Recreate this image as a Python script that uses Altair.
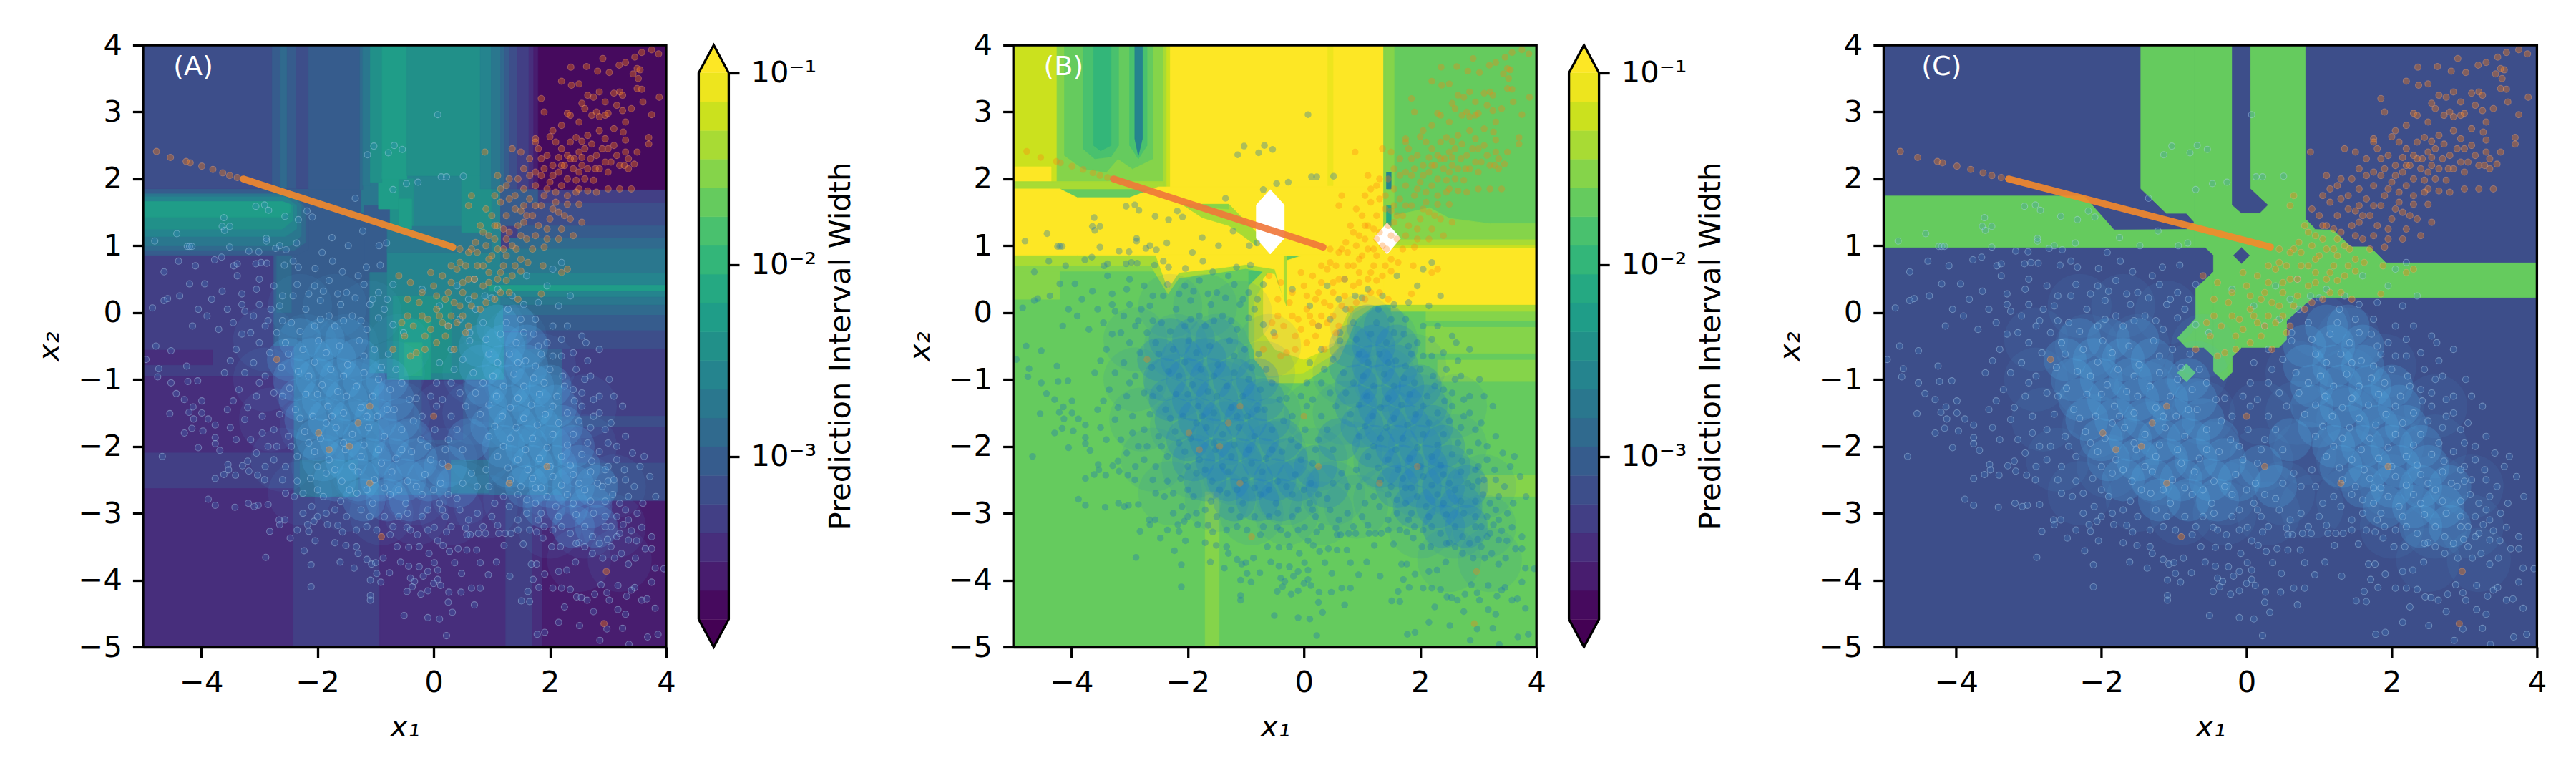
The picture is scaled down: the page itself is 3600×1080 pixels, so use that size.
import altair as alt
import pandas as pd

VIRIDIS = ["#460a5e","#481d6f","#472e7c","#423f85","#3d4e8a","#365c8d","#306a8e","#2a778e","#25848e","#219089",
           "#1f9d88","#25a982","#33b679","#49c16e","#65cb5e","#85d44a","#a8db34","#cbe11e","#ede51e","#fde725","#ffffff","#440154"]
BANDS = list(range(22))
LEVELS = [-3.85,-3.7,-3.55,-3.4,-3.25,-3.1,-2.95,-2.8,-2.65,-2.5,-2.35,-2.2,-2.05,-1.9,-1.75,-1.6,-1.45,-1.3,-1.15,-1.0]
X_TICKS = [-4,-2,0,2,4]
Y_TICKS = [-5,-4,-3,-2,-1,0,1,2,3,4]
CB_TICKS = [0.1,0.01,0.001]

def R(b,x0,x1,y0,y1):
    return (b,[(x0,y0,y1),(x1,y0,y1)])

# Panel A: contour regions (band, [(x, y_low, y_high), ...])
PIECES_A = [
 R(3,-5,4,-5,4),
 R(2,-5,-2.415,-5,-2.63),R(3,-2.415,-.93,-5,-2.72),R(2,-.93,1.24,-5,-2.72),R(3,1.24,1.70,-5,-2.82),
 R(2,1.70,1.87,-5,-2.82),R(1,1.87,4,-5,-2.82),
 R(2,-5,-2.4,-2.09,-.95),R(2,-5,-3.8,-.78,-.56),
 R(4,2.2,4,-1.71,-1.55),R(4,2.2,4,-2.8,-2.25),
 R(4,-2.4,2.2,-2.72,-.45),R(5,-2.4,-.95,-2.72,-.3),R(5,.95,2.2,-2.72,-.3),R(6,-2.3,-1.3,-2.75,-2.2),R(6,.3,.95,-2.7,-2.2),
 R(3,-.2,.5,-1.9,-1.0),
 R(5,-2.75,-1.1,-.5,1.85),R(6,-2.7,-2.45,0,.9),
 R(8,-1.1,1.15,1.2,2.1),R(7,-1.25,-.75,1.5,2.0),
 R(5,-1.2,-.75,.5,1.6),R(7,-1.1,-.75,-.9,.6),
 R(8,-.8,1.2,-1.0,.95),R(7,-.8,1.15,.9,1.3),R(8,-.34,.48,1.3,2.04),R(9,.48,1.0,1.2,2.05),R(8,1.0,1.15,.6,1.85),
 R(9,-.75,-.34,1.3,2.0),R(10,-.95,-.6,1.55,2.0),R(10,-.6,-.38,1.25,1.7),
 R(9,-.7,.3,-.9,.25),R(10,-.6,-.05,-1.0,-.1),R(11,-.5,-.2,-.95,-.45),
 R(5,1.15,1.8,1.3,1.85),
 R(3,1.8,4,1.64,1.85),R(4,1.55,4,1.30,1.64),R(5,1.45,4,1.11,1.30),R(6,1.3,4,.95,1.11),R(7,1.15,4,.59,.95),
 R(8,1.05,4,.41,.59),R(10,.95,4,.32,.41),R(8,1.05,4,.23,.32),R(7,1.15,4,.11,.23),R(6,1.2,4,-.04,.11),
 R(5,1.2,4,-.27,-.04),R(4,1.6,4,-.54,-.27),
 (5,[(-5,.86,1.85),(-2.35,.86,1.85),(-2.15,.95,1.8)]),
 (6,[(-5,.93,1.79),(-2.4,.93,1.79),(-2.2,1.05,1.55)]),
 (7,[(-5,1.0,1.77),(-2.45,1.0,1.77),(-2.28,1.15,1.6)]),
 (8,[(-5,1.14,1.73),(-2.55,1.14,1.73),(-2.36,1.25,1.6)]),
 (9,[(-5,1.25,1.66),(-2.6,1.25,1.66),(-2.42,1.38,1.6)]),
 (10,[(-5,1.43,1.66),(-2.6,1.43,1.66),(-2.47,1.5,1.62)]),
 R(4,-5,-2.78,1.86,4),R(5,-2.78,-2.64,1.86,4),R(6,-2.64,-2.52,1.86,4),R(5,-2.52,-2.36,1.86,4),R(4,-2.36,-2.15,1.86,4),
 R(5,-2.15,-1.27,1.84,4),R(6,-1.27,-1.22,1.84,4),R(7,-1.22,-1.09,1.9,4),R(9,-1.09,-.89,1.95,4),R(10,-.89,-.46,2.0,4),
 R(9,-.46,.80,2.05,4),R(8,.80,.99,1.85,4),R(7,.99,1.15,1.85,4),R(6,1.15,1.22,1.85,4),R(5,1.22,1.30,1.85,4),
 R(4,1.30,1.44,1.85,4),R(3,1.44,1.64,1.85,4),R(2,1.64,1.72,1.85,4),R(1,1.72,1.80,1.85,4),R(0,1.80,4,1.84,4),
]

# Panel B: contour regions
PIECES_B = [
 R(14,-5,4,-5,4),
 R(15,-1.70,-1.46,-5,-2.68),R(15,3.04,4,-2.75,-2.43),
 R(15,2.3,4,-1.03,-.71),R(15,2.1,4,-.61,-.21),R(14,2.4,4,-.21,-.12),R(15,2.1,4,-.12,.02),R(16,1.5,4,.02,.12),R(15,-5,-4.2,.2,.7),
 (15,[(-5,.62,.7),(-2.5,.62,.7)]),
 (16,[(-5,.7,.86),(-.3,.7,.86)]),
 (14,[(-1.5,.25,.63),(-.55,.25,.63)]),
 (13,[(-.95,.35,.62),(-.72,.35,.62)]),
 (16,[(-.95,-.4,.4),(-.6,-1.05,.7),(0,-1.05,.86),(.6,-.7,.86),(.9,-.1,.86),(1.2,.1,.86),(1.4,.12,.86)]),
 (17,[(-.85,-.7,.2),(-.6,-.95,.55),(0,-.9,.86),(.55,-.6,.86),(.85,0,.86),(1.2,.15,.86)]),
 (19,[(-.7,-.3,.5),(-.5,-.55,.72),(0,-.7,.86),(.5,-.5,.86),(.8,.1,.86),(1.4,.12,.86)]),
 (16,[(-2.65,.72,.9),(-2.34,.28,.9),(-2.15,.52,.9),(-1.6,.58,.9),(-1,.66,.9),(-.5,.58,.9),(-.3,.1,.9)]),
 (19,[(-2.55,.86,.86),(-2.34,.36,.86),(-2.15,.6,.86),(-1.6,.65,.86),(-1,.72,.86),(-.5,.65,.86),(-.35,.2,.86)]),
 R(19,-2.31,1.37,.86,4),
 R(18,.41,.5,1.9,4),
 R(17,-5,-4.2,1.85,4),R(15,-4.25,-2.42,1.87,4),R(16,-2.42,-2.36,1.87,4),R(17,-2.36,-2.31,1.87,4),
 (14,[(-4.12,2.35,4),(-3.8,2.15,4),(-3.4,2.1,4),(-3.2,2.3,4),(-2.95,2.15,4),(-2.6,2.3,4)]),
 (13,[(-3.8,2.45,4),(-3.6,2.3,4),(-3.32,2.33,4),(-3.19,2.5,4)]),
 (12,[(-3.62,2.5,4),(-3.5,2.42,4),(-3.32,2.5,4)]),
 (13,[(-3.0,2.5,4),(-2.85,2.3,4),(-2.7,2.5,4)]),
 (8,[(-2.91,2.6,4),(-2.85,2.35,4),(-2.78,2.6,4)]),
 R(19,-5,-4.35,1.96,2.18),R(16,-5,-2.4,1.85,1.96),
 (19,[(-5,.86,1.85),(-4.2,.86,1.85),(-3.9,.86,1.72),(-3.0,.86,1.72),(-2.5,.86,1.88),(1.37,.86,1.88)]),
 (16,[(-2.1,1.62,1.62),(-1.75,1.42,1.62),(-1.29,1.3,1.62),(-.82,1.0,1.2)]),
 (15,[(-1.75,1.58,1.62),(-1.3,1.55,1.62)]),
 (17,[(1.37,.96,1.4),(1.42,.96,1.4)]),
 R(15,1.37,1.4,1.05,4),R(15,1.40,1.55,1.05,4),
 (15,[(1.4,1.05,1.42),(2.16,1.05,1.57),(2.5,1.05,1.41),(3.2,1.05,1.33),(4,1.05,1.33)]),
 R(16,1.37,4,.98,1.09),R(17,1.37,4,.96,1.0),R(19,1.37,4,.12,.96),
 R(8,1.42,1.5,1.85,2.1),R(11,1.42,1.5,1.3,1.6),
 (20,[(-.82,1.11,1.61),(-.58,.875,1.84),(-.34,1.11,1.61)]),
 (20,[(1.2,1.11,1.11),(1.43,.875,1.34),(1.66,1.11,1.11)]),
]

# Panel C: two-level regions
PIECES_C = [
 R(4,-5,4,-5,4),
 (14,[(-5,.978,1.744),(-2.24,.978,1.744),(-1.825,.978,1.236),(-.83,.978,1.243),(-.72,.978,1.354)]),
 (14,[(-1.457,1.854,4),(-1.105,1.485,4),(-.83,1.485,4),(-.72,1.354,4)]),
 (14,[(-.954,-.379,-.379),(-.83,-.52,-.235),(-.70,-.52,-.085)]),
 (14,[(-.70,-.52,.36),(-.59,-.52,.47),(-.455,-.657,.61)]),
 (14,[(-.72,.978,4),(-.57,.978,4),(-.456,.86,4),(-.455,-.88,4),(-.32,-1.02,4),(-.197,-.89,4),(-.196,-.657,4),(-.07,-.52,4),
      (.45,-.52,4),(.55,-.405,4),(.551,-.12,4),(.809,.13,4),(.811,.13,1.40),(.92,.228,1.28),(.94,.228,1.243),(1.19,.228,1.235),
      (1.44,.228,.983),(1.70,.228,.983),(1.92,.228,.743),(4,.228,.743)]),
 (4,[(-.197,1.61,4),(-.07,1.49,4),(.049,1.49,4),(.05,1.49,1.854),(.18,1.49,1.72),(.29,1.61,1.61)]),
 (4,[(-.18,.855,.855),(-.07,.737,.973),(.04,.855,.855)]),
 (14,[(-.955,-.9,-.9),(-.83,-1.035,-.765),(-.705,-.9,-.9)]),
]

HAZE = [(-2.3,-.4),(-1.9,-.4),(-1.5,-.4),(-2.5,-.7),(-2.1,-.7),(-1.7,-.7),(-1.3,-.7),(-2.4,-1.0),(-2,-1.0),(-1.6,-1.0),(-1.2,-1.0),(-.8,-1.0),
 (-2.3,-1.3),(-1.9,-1.3),(-1.5,-1.3),(-1.1,-1.3),(-.7,-1.3),(-2.2,-1.6),(-1.8,-1.6),(-1.4,-1.6),(-1,-1.6),(-.6,-1.6),(-2,-1.9),(-1.6,-1.9),(-1.2,-1.9),(-.8,-1.9),(-.4,-1.9),
 (-1.9,-2.2),(-1.5,-2.2),(-1.1,-2.2),(-.7,-2.2),(-.3,-2.2),(-1.7,-2.5),(-1.3,-2.5),(-.9,-2.5),(-.5,-2.5),(-.1,-2.5),(-1.2,-2.8),(-.8,-2.8),(-.4,-2.8),
 (1.1,-.2),(1.4,-.2),(.8,-.5),(1.2,-.5),(1.6,-.5),(.8,-.8),(1.2,-.8),(1.6,-.8),(.9,-1.1),(1.3,-1.1),(1.7,-1.1),(2.0,-1.1),
 (.9,-1.4),(1.3,-1.4),(1.7,-1.4),(2.1,-1.4),(1.0,-1.7),(1.4,-1.7),(1.8,-1.7),(2.2,-1.7),(1.2,-2.0),(1.6,-2.0),(2.0,-2.0),(2.4,-2.0),
 (1.3,-2.3),(1.7,-2.3),(2.1,-2.3),(2.5,-2.3),(1.6,-2.6),(2.0,-2.6),(2.4,-2.6),(2.8,-2.6),(1.9,-2.9),(2.3,-2.9),(2.7,-2.9),(2.4,-3.2),(2.8,-3.2),
 (.2,-2.3),(.4,-2.6),(.6,-1.9)]

HAZE_WIDE = [(-2.9,-.4),(-2.9,-1.0),(-2.8,-1.6),(-2.6,-2.2),(-2.3,-2.7),(-2.3,.1),(-1.7,.1),(-1.1,.0),(-.6,-.5),(-2.2,-.5),(-2.2,-1.1),(-2.1,-1.7),(-1.9,-2.3),(-1.5,-2.8),(-.9,-3),(-.3,-3),(.3,-3),(.9,-2.9),
 (-1.5,-.5),(-1.4,-1.2),(-1.3,-1.8),(-1.2,-2.4),(-.7,-.9),(-.6,-1.5),(-.5,-2.1),(-.3,-2.7),(.2,-1.5),(.2,-2.2),(.5,-2.7),(1.0,-.2),(.7,-.9),(.7,-1.5),(.8,-2.1),(1.4,-.4),(1.4,-1),(1.4,-1.6),(1.4,-2.2),(1.4,-2.8),
 (1.9,-.8),(2,-1.4),(2,-2),(2,-2.6),(2,-3.2),(2.6,-1.4),(2.6,-2),(2.6,-2.6),(2.6,-3.2),(3.1,-2.6),(3.1,-3.2),(3.2,-3.7),(2.5,-3.7)]

BLUE_SPARSE = [(.07,2.96),(-1.03,2.49),(-.68,2.5),(-.54,2.44),(-.78,2.39),(-1.14,2.36),(-.47,1.93),(-.27,1.95),(.13,2.03),(.22,2.03),(.51,2.04),(-1.35,1.71),(-.7,1.84),
 (-3.06,1.59),(-2.91,1.61),(-2.84,1.53),(-2.56,1.44),(-2.33,1.39),(-2.18,1.52),(-2.09,1.43),(-3.61,1.42),(-3.64,1.29),(-3.51,1.29),(-3.6,1.23),(-4.42,1.18),(-4.8,1.07),
 (-4.24,.99),(-4.2,.99),(-4.16,.99),(-3.51,.98),(-2.88,1.11),(-2.88,1.07),(-2.65,1.0),(-2.54,.94),(-2.72,.96),(-2.36,1.04),(-1.75,1.12),(-1.47,1.0),(-1.22,1.22),(-1.92,.9),
 (-1.74,.77),(-.94,1.0),(-.81,1.04),(-3.18,.92),(-3.01,.91),(-3.65,.83),(-3.77,.79),(-4.39,.77),(-4.1,.7),(-4.64,.61),(-3.44,.7),(-3.38,.73),(-3.06,.73),(-2.97,.75),(-2.87,.74),
 (-2.57,.71),(-2.42,.77),(-2.33,.68),(-2.04,.66),(-1.57,.61),(-.92,.71),(-1.16,.68),(-1.3,.55),(-3,.5),(-3.38,.55),(-4.2,.43),(-4.58,.21),(-4.64,.18),(-4.37,.25),(-4.84,.07),
 (-3.94,.43),(-3.64,.32),(-3.82,.2),(-3.3,.28),(-3.05,.35),(-2.75,.4),(-2.6,.25),(-2.35,.42),(-2.05,.4),(-1.8,.48),(-1.5,.3),(-1.2,.42),(-.95,.3),(-.7,.42),(-3.55,.05),(-3.25,.02),(-3.0,.12),
 (-2.8,.05),(-3.9,-.05),(-4.15,-.2),(-3.7,-.25),(-3.45,-.15),(-3.15,-.3),(-2.9,-.2),(-1.1,.12),(-.85,.05),(-1.6,.12),(-1.95,.18),(-4.05,.05),
 (-4.78,-.5),(-4.52,-.57),(-4.95,-.7),(-4.73,-.84),(-4.75,-.96),(-4.52,-1.05),(-4.25,-.8),(-4.23,-1.03),(-4.06,-1.02),(-4.43,-1.21),(-4.29,-1.3),(-4.54,-1.51),(-4.14,-1.41),(-3.99,-1.32),
 (-4.21,-1.49),(-3.99,-1.5),(-4.13,-1.59),(-3.88,-1.59),(-3.76,-1.68),(-4.29,-1.8),(-4.16,-1.73),(-3.97,-1.77),(-3.76,-1.87),(-3.76,-1.96),(-4.05,-2.02),(-4.67,-2.15),(-3.68,-2.06),
 (-3.54,-2.27),(-3.53,-2.35),(-3.76,-2.48),(-3.61,-2.42),(-3.41,-2.43),(-3.29,-2.29),(-3.18,-2.37),(-3.03,-2.43),(-2.91,-2.5),(-3.88,-2.79),(-3.76,-2.88),(-3.42,-2.91),(-3.19,-2.85),
 (-3.09,-2.9),(-3.02,-2.88),(-2.85,-2.87),(-2.66,-3.1),(-2.56,-3.1),(-2.65,-3.17),(-2.82,-3.27),(-2.47,-3.37),(-2.35,-3.25),(-2.17,-3.17),(-2.06,-3.12),(-2.15,-3.27),(-2.04,-3.41),
 (-2.23,-3.56),(-1.7,-3.44),(-1.51,-3.48),(-1.33,-3.5),(-1.3,-3.6),(-1.15,-3.69),(-1.07,-3.76),(-1,-3.74),(-.98,-3.9),(-1.09,-4),(-.91,-4.03),(-.76,-3.89),(-.87,-3.67),(-.57,-3.73),
 (-.43,-3.79),(-.25,-3.8),(-.1,-3.87),(.07,-3.85),(-.18,-3.94),(-.4,-3.97),(-.33,-4.02),(.07,-3.99),(0,-4.05),(.12,-4.08),(-.37,-4.1),(-.46,-4.17),(-.22,-4.21),(-.1,-4.16),(.26,-4.18),(.47,-4.18),
 (-2.89,-3.66),(-2.11,-3.77),(-2.11,-4.1),(-1.61,-3.73),(-1.37,-3.82),(-1.09,-4.23),(-1.09,-4.3),(-.51,-4.53),(-.1,-4.56),(.1,-4.58),(.32,-4.48),(.22,-4.83),(.25,-4.33),(.7,-4.37),(.65,-4.12),
 (.8,-4.12),(.94,-3.92),(.48,-3.9),(1.08,-3.73),(1.31,-3.94),(1.62,-4.17),(1.51,-4.31),(1.65,-4.32),(1.78,-4.81),(1.91,-4.78),(2.15,-4.63),(2.51,-4.68),(2.98,-4.73),(3.25,-4.72),(2.86,-4.9),
 (3.68,-4.85),(3.86,-4.81),(3.36,-4.96),(1.71,-3.99),(1.81,-4.11),(2.05,-4.12),(2.2,-4.12),(2.35,-4.14),(2.25,-4.4),(2.46,-4.25),(2.54,-4.26),(2.64,-4.3),(2.75,-4.47),(2.77,-4.21),(2.88,-4.07),
 (2.98,-4.19),(3.02,-4.3),(3.17,-4.44),(3.3,-4.51),(3.17,-4.08),(3.32,-4.24),(3.4,-4.15),(3.58,-4.3),(3.67,-4.28),(3.75,-4.03),(3.81,-4.42),(3.46,-4.11),(3.96,-3.83),(3.81,-3.82),(3.75,-3.53),
 (3.64,-3.53),(3.47,-3.67),(3.35,-3.76),(3.11,-3.67),(3.23,-3.6),(2.91,-3.67),(2.73,-3.6),(2.44,-3.73),(2.29,-3.85),(2.15,-3.87),(1.91,-3.91),(1.77,-3.76),(1.68,-3.76),(3.75,-3.35),(3.49,-3.41),
 (3.4,-3.26),(3.58,-3.21),(3.26,-3.17),(2.99,-3.39),(2.73,-3.35),(2.5,-3.44),(2.18,-3.5),(2.03,-3.5),(1.88,-3.37),(1.77,-3.28),(1.54,-3.46),(1.21,-3.48),(.89,-3.3),(.77,-3.3),(.63,-3.32),(.57,-3.32),
 (1.12,-3.3),(1.23,-3.3),(1.33,-3.3),(.22,-3.28),(.07,-3.41),(.16,-3.48),(.27,-3.57),(.42,-3.53),(.57,-3.55),(.74,-3.55),(-.08,-3.6),(-.25,-3.5),(-.43,-3.51),(-.63,-3.5),(.8,-3.74),(.36,-3.74),(.01,-3.74),
 (.01,-3.21),(-.28,-3.32),(-.46,-3.21),(-.75,-3.32),(-.98,-3.25),(-1.33,-3.25),(-1.57,-3.28),(-1.83,-3.17),(3.3,-2.95),(3.15,-3.05),(3.6,-2.85),(3.82,-2.75),(3.45,-2.6),(3.72,-2.45),(3.55,-2.3),
 (3.3,-2.5),(3.08,-2.72),(2.95,-2.35),(3.15,-2.2),(3.42,-2.1),(3.62,-2.15),(3.0,-1.95),(3.3,-1.85),(3.05,-1.65),(2.75,-1.55),(3.25,-1.4),(2.85,-1.25),(2.6,-1.0),(3.02,-1.0),(2.65,-.72),(2.85,-.55),
 (2.55,-.35),(2.3,-.2),(2.15,.1),(2.35,.25),(1.95,.4),(2.05,.65),(2.2,.75),(1.6,.55),(1.8,.15),(-3.4,-.55),(-3.1,-.75),(-3.6,-.9),(-3.35,-1.15),(-3.05,-1.25),(-3.55,-1.45),(-3.25,-1.6),(-2.95,-1.8),
 (-3.4,-1.9),(-3.05,-2.1),(-2.75,-2.2),(-2.6,-2.5),(-2.4,-2.75),(-2.1,-2.9),(-1.85,-3.0),(-1.5,-3.05),(-1.1,-3.05),(-.6,-3.05),(-.2,-3.05),(.2,-3.05),(.6,-3.1),(1.0,-3.05),(1.45,-3.1),(1.8,-3.1),(2.05,-3.25),(2.35,-3.3),
 (2.6,-3.2),(2.95,-3.2),(3.2,-3.3)]

BLUE_MID = [(-3.3,.12),(-3.1,-.05),(-3.3,-.32),(-3.0,-.45),(-2.85,-.12),(-2.65,.1),(-2.42,.25),(-2.15,.28),(-1.9,.32),(-1.65,.28),(-1.35,.22),(-1.05,.2),(-.8,.2),(-2.6,-.12),(-2.3,-.28),(-2.05,-.2),
 (-1.8,-.05),(-1.55,-.12),(-1.25,-.12),(-.95,-.08),(-.7,-.18),(-.52,-.3),(-3.5,-.72),(-3.25,-.9),(-3.0,-1.05),(-3.45,-1.32),(-3.2,-1.42),(-2.95,-1.55),(-3.5,-1.72),(-3.15,-1.9),(-2.85,-2.0),(-3.2,-2.22),(-2.9,-2.3),
 (-2.7,-2.0),(-2.55,-2.3),(-2.35,-2.52),(-2.55,-2.7),(-2.25,-2.7),(-2.0,-2.65),(-2.25,-3.0),(-2.0,-3.05),(-1.7,-2.95),(-1.65,-3.18),(-1.25,-2.95),(-1.15,-3.2),(-.85,-3.05),(-.7,-3.2),(-.45,-3.0),(-.4,-3.25),
 (-.1,-2.95),(-.1,-3.25),(.15,-2.95),(.3,-3.2),(.45,-2.95),(.55,-3.22),(.75,-3.0),(.85,-3.2),(1.05,-2.85),(1.1,-3.18),(1.3,-2.9),(1.45,-3.25),(1.6,-3.0),(1.65,-3.25),(1.9,-3.2),(2.2,-3.2),(2.45,-3.45),(2.6,-3.5),
 (2.85,-3.45),(3.05,-3.5),(3.15,-3.35),(3.35,-3.4),(3.05,-3.2),(3.35,-3.1),(3.5,-3.0),(3.2,-2.85),(2.95,-3.05),(3.35,-2.75),(3.1,-2.5),(3.28,-2.35),(2.9,-2.6),(3.15,-2.0),(2.95,-1.75),(2.85,-1.5),(2.75,-1.3),
 (3.1,-1.25),(2.55,-1.2),(2.7,-.95),(2.45,-.85),(2.4,-.6),(2.62,-.45),(2.2,-.65),(2.2,-.4),(2.05,-.2),(1.95,-.45),(1.75,-.1),(1.55,.12),(1.35,.25),(1.1,.35),(.88,.25),(.6,.2),(.45,-.1),(.62,-.3),(.3,-.55),(.35,-.85),
 (.1,-.75),(.05,-1.05),(.45,-1.2),(.15,-1.3),(.3,-1.55),(.02,-1.75),(.4,-1.75),(.2,-2.05),(.5,-2.05),(.15,-2.25),(.5,-2.55),(.75,-2.6),(.9,-2.35),(.95,-2.6),(1.2,-2.75),(1.45,-2.72),(1.75,-2.62),(-.05,-1.25),(-.2,-1.55),
 (-.1,-2.0),(-.3,-1.28),(-.55,-2.05),(-.8,-1.45),(-1.15,-1.55),(-1.5,-1.25),(-1.75,-1.55),(-2.0,-1.22),(-2.3,-1.58),(-2.6,-1.25),(-2.75,-1.75),(-2.45,-2.0),(-2.15,-1.95),(-1.85,-1.65),(-1.55,-1.95),(-1.2,-1.98),
 (-.9,-2.25),(-1.4,-2.3),(-1.7,-2.35),(-2.0,-2.3),(-1.45,-2.65),(-1.15,-2.65),(-.85,-2.62),(-.6,-2.65),(-.3,-2.6),(0,-2.65),(.25,-2.72),(-2.5,-.62),(-2.15,-.95),(-1.85,-.6),(-1.55,-.95),(-1.2,-.65),(-.95,-1.0),
 (-.65,-.85),(.9,-.4),(1.25,-.15),(1.55,-.3),(1.8,-.5),(1.1,-.75),(1.45,-.75),(1.75,-.8),(2.05,-.65),(.85,-1.05),(1.2,-1.1),(1.55,-1.1),(1.9,-1.05),(2.25,-1.1),(.95,-1.38),(1.32,-1.42),(1.68,-1.38),(2.05,-1.4),(2.42,-1.32),
 (1.05,-1.7),(1.42,-1.72),(1.78,-1.68),(2.15,-1.65),(2.5,-1.62),(1.2,-2.0),(1.58,-2.05),(1.95,-2.02),(2.3,-1.98),(2.65,-1.95),(1.28,-2.32),(1.62,-2.35),(2.0,-2.3),(2.35,-2.28),(2.72,-2.22),(1.5,-2.6),(1.85,-2.62),(2.2,-2.58),
 (2.5,-2.55),(2.82,-2.55),(1.75,-2.85),(2.1,-2.9),(2.4,-2.85),(2.7,-2.82),(3.0,-2.3)]

BLUE_DENSE = [(-2.7,-.3),(-2.45,-.15),(-2.2,.05),(-1.95,-.1),(-1.7,-.2),(-1.4,-.05),(-1.15,-.25),(-2.82,-.6),(-2.55,-.45),(-2.25,-.55),(-1.98,-.42),(-1.62,-.5),(-1.28,-.42),(-1.02,-.55),(-.78,-.62),
 (-2.9,-.95),(-2.62,-.82),(-2.33,-.88),(-2.05,-.74),(-1.77,-.85),(-1.48,-.78),(-1.2,-.9),(-.9,-.82),(-.55,-1.05),(-2.75,-1.2),(-2.48,-1.13),(-2.2,-1.22),(-1.92,-1.08),(-1.65,-1.18),(-1.33,-1.1),(-1.05,-1.25),(-.75,-1.15),
 (-.42,-1.3),(-2.65,-1.52),(-2.38,-1.45),(-2.08,-1.55),(-1.82,-1.4),(-1.55,-1.5),(-1.25,-1.42),(-.97,-1.55),(-.68,-1.45),(-.35,-1.62),(-2.5,-1.85),(-2.22,-1.78),(-1.95,-1.88),(-1.68,-1.72),(-1.4,-1.82),(-1.12,-1.72),
 (-.85,-1.85),(-.55,-1.75),(-.22,-1.9),(-2.35,-2.15),(-2.05,-2.08),(-1.8,-2.2),(-1.52,-2.05),(-1.25,-2.15),(-.95,-2.05),(-.65,-2.18),(-.38,-2.08),(-.05,-2.2),(-2.12,-2.48),(-1.85,-2.4),(-1.58,-2.52),(-1.3,-2.38),
 (-1.02,-2.5),(-.72,-2.38),(-.45,-2.52),(-.15,-2.42),(.12,-2.55),(-1.9,-2.75),(-1.6,-2.82),(-1.32,-2.7),(-1.05,-2.85),(-.75,-2.72),(-.48,-2.85),(-.2,-2.72),(.1,-2.85),(.4,-2.78),
 (.72,.05),(1.0,.22),(1.28,.05),(1.5,-.1),(.85,-.15),(1.15,-.32),(1.42,-.45),(1.72,-.32),(.62,-.42),(.95,-.62),(1.3,-.62),(1.58,-.72),(1.85,-.62),(.68,-.9),(1.02,-.95),(1.38,-.92),(1.72,-.98),(2.0,-.85),
 (2.22,-.95),(.72,-1.2),(1.08,-1.25),(1.45,-1.28),(1.82,-1.22),(2.12,-1.25),(2.4,-1.15),(.8,-1.52),(1.18,-1.55),(1.55,-1.58),(1.92,-1.52),(2.3,-1.5),(2.55,-1.4),(.95,-1.85),(1.32,-1.88),(1.7,-1.88),(2.05,-1.82),
 (2.4,-1.82),(2.7,-1.72),(1.1,-2.15),(1.45,-2.2),(1.82,-2.18),(2.2,-2.15),(2.55,-2.12),(2.85,-2.08),(1.32,-2.5),(1.7,-2.48),(2.05,-2.45),(2.4,-2.42),(2.7,-2.38),(3.0,-2.52),(1.6,-2.8),(1.95,-2.75),(2.3,-2.72),
 (2.6,-2.65),(2.95,-2.82),(1.85,-3.0),(2.15,-3.05),(2.45,-3.02),(2.75,-3.0),(.3,-1.05),(.25,-.2),(.5,-.7),(.1,.1),(-.2,.35),(.4,.4),(.7,.5),(.25,-1.9),(.55,-1.4),(.05,-1.4),(.65,-2.4)]

ORANGE = [(3.75,3.93),(3.87,3.87),(3.58,3.89),(3.46,3.82),(3.3,3.74),(3.19,3.7),(2.91,3.8),(2.63,3.68),(2.36,3.67),(2.82,3.61),(3.02,3.59),(3.55,3.63),(3.43,3.57),(3.52,3.5),(2.2,3.46),(2.37,3.4),(2.5,3.42),
 (3.88,3.22),(3.58,3.34),(3.5,3.35),(3.1,3.28),(3.2,3.3),(3.25,3.25),(2.85,3.3),(2.75,3.22),(2.65,3.25),(2.55,3.13),(1.85,3.2),(1.9,3.0),(2.3,2.98),(2.35,2.95),(2.6,3.05),(2.72,2.95),(2.85,2.93),(2.95,2.95),
 (3.0,2.98),(3.25,3.02),(3.75,2.96),(3.7,2.62),(3.3,2.85),(3.1,2.75),(3.26,2.7),(3.3,2.58),(2.85,2.72),(2.65,2.65),(2.45,2.62),(2.55,2.56),(2.05,2.72),(2.0,2.63),(1.75,2.6),(1.75,2.55),(3.7,2.52),(3.3,2.4),
 (3.2,2.2),(3.28,2.2),(3.35,2.15),(3.45,2.22),(3.0,2.45),(2.9,2.45),(2.8,2.35),(2.7,2.3),(2.6,2.45),(2.5,2.4),(2.35,2.55),(2.2,2.45),(2.15,2.32),(2.05,2.2),(2.15,2.1),(2.25,2.2),(2.4,2.15),(2.55,2.2),(2.65,2.15),
 (2.85,2.15),(2.95,2.25),(3.0,2.1),(2.75,1.98),(2.6,2.0),(2.45,1.98),(2.3,2.0),(2.0,1.95),(1.85,2.05),(1.75,2.1),(1.65,2.3),(1.55,2.15),(1.35,2.45),(1.5,2.4),(1.45,2.0),(1.3,1.7),(.88,2.4),(1.1,2.05),(1.55,1.85),
 (1.75,1.9),(1.95,1.85),(2.1,1.8),(2.3,1.75),(2.5,1.85),(2.65,1.82),(2.8,1.8),(3.0,1.85),(3.2,1.85),(3.4,1.85),(1.65,1.7),(1.85,1.6),(2.05,1.55),(2.3,1.62),(2.5,1.62),(1.4,1.55),(1.15,1.65),(.9,1.55),(.6,1.6),
 (.65,1.75),(1.0,1.45),(1.1,1.3),(1.3,1.2),(1.55,1.35),(1.8,1.3),(2.0,1.4),(2.2,1.25),(2.35,1.4),(2.4,1.15),(2.55,1.35),(1.95,1.1),(1.6,1.1),(1.35,1.0),(1.2,.95),(1.7,.95),(1.9,.98),(1.5,.8),(1.2,.7),(1.0,.85),
 (.75,.9),(.85,.7),(.55,.7),(.6,.5),(.3,.45),(1.1,.5),(1.35,.55),(1.5,.62),(.85,.4),(.7,.25),(.35,.15),(.05,.25),(1.3,.3),(1.45,.2),(1.85,.28),(2.2,.6),(2.3,.65),(1.88,.7),(.5,-.05),(.25,-.2),(.55,-.3),(-.6,.55),
 (-.4,.45),(-.25,.15),(.1,-.05),(-.5,-.35),(-.7,-.55),(-.3,-.6),(.05,-.45),(-.1,-.1),(.95,1.15),(.72,1.05),(1.05,1.1),(1.5,1.52),(1.7,1.45),(2.1,1.65),(2.25,1.45),(1.25,1.45),(.45,.95),(.9,1.0),(.8,1.3),(1.42,.95),(1.62,.75),
 (1.25,.48),(1.05,.2),(.8,.05),(.65,.95),(.4,.65),(.15,.55),(-.05,.6),(.95,.6),(.5,.3),(.2,-.35),(.35,-.55),(-.15,-.35),(-.45,-.05),(-2.7,-.7),(-1.98,-1.8),(-1.8,-2.05),(-1.3,-1.65),(-1.1,-1.4),(0,-1.55),(-1.45,-2),
 (-.9,-3.35),(-1.1,-2.55),(.25,-2.3),(1.3,-2.55),(1.95,-2.3),(2.97,-3.87),(2.93,-4.65),
 (2.1,2.55),(2.3,2.35),(2.42,2.3),(2.55,2.32),(2.72,2.52),(2.95,2.6),(3.1,2.5),(3.15,2.35),(3.05,2.25),(2.78,2.15),(2.5,2.1),(2.35,2.3),(2.2,2.2),(1.95,2.35),(1.85,2.3),(1.8,2.45),(1.65,2.05),(1.9,2.15),(2.05,2.05),
 (2.45,1.8),(2.2,1.9),(1.9,1.75),(1.75,1.6),(1.55,1.6),(1.6,1.45),(1.4,1.75),(1.25,1.9),(1.3,2.0),(1.15,1.85),(1.05,1.75),(2.15,1.5),(1.95,1.25),(2.15,1.1),(1.75,1.15),(1.5,1.15),(1.25,1.1),(1.45,1.3),(1.2,1.25),(1.05,1.3),(.85,1.2),
 (1.1,.95),(.95,.8),(.75,.7),(.6,.9),(.45,.75),(.3,.7),(1.25,.85),(1.4,.7),(1.15,.6),(.95,.45),(.7,.5),(.5,.45),(.25,.3),(.05,.05),(.65,.1),(.9,.15),(1.15,.3),(.45,.1),(.3,-.05),(.15,-.15),(-.05,-.25),(-.2,-.05),(-.35,-.2),(.4,-.15),
 (.6,-.2),(-.15,-.55),(-.4,-.65),(-.55,-.15),(-.2,.3),(0,.4),(-.45,.2),(.2,.2),(2.8,3.0),(2.5,2.85),(2.2,2.8),(2.95,3.15),(3.15,3.1),(3.4,3.05),(3.35,2.3),(3.5,2.4),(3.6,3.15),(3.5,3.65)]

LINE_POINTS = [(-4.77,2.41),(-4.53,2.32),(-4.26,2.26),(-4.19,2.24),(-3.99,2.19),(-3.8,2.14),(-3.63,2.09),(-3.51,2.05),(-3.38,2.02)]
LINE_X = [-3.28,.33]
LINE_Y = [2.0,.98]
LABELS = ["(A)","(B)","(C)"]
LABEL_X = [-4.48]
LABEL_Y = [3.67]

FONT = "DejaVu Sans"
FS = 41.67
LW = 3.3
H = 841
X_DOMAIN = [-5,4]
Y_DOMAIN = [-5,4]

def table(pieces):
    rows = []
    for p,(b,pts_) in enumerate(pieces):
        for i,(x,lo,hi) in enumerate(pts_):
            rows.append({"piece":p,"band":b,"i":i,"x":x,"lo":lo,"hi":hi})
    return pd.DataFrame(rows)

def pts(lst):
    return pd.DataFrame(lst,columns=["x","y"])

color_scale = alt.Scale(domain=BANDS,range=VIRIDIS)
xs = alt.Scale(domain=X_DOMAIN,nice=False,zero=False)
ys = alt.Scale(domain=Y_DOMAIN,nice=False,zero=False)
xax = alt.Axis(values=X_TICKS,title="x₁",titleFontStyle="italic",grid=False,format="d",titlePadding=20)
yax = alt.Axis(values=Y_TICKS,title="x₂",titleFontStyle="italic",grid=False,format="d",titlePadding=18)

def panel(pieces,label,w,ring):
    X = alt.X("x:Q",scale=xs,axis=xax,stack=False)
    Y = alt.Y("y:Q",scale=ys,axis=yax,stack=False)
    area = alt.Chart(table(pieces)).mark_area(strokeWidth=.8,clip=True).encode(
        x=X, y=alt.Y("lo:Q",scale=ys,axis=yax,stack=False), y2="hi:Q",
        color=alt.Color("band:O",scale=color_scale,legend=None),
        stroke=alt.Stroke("band:O",scale=color_scale,legend=None),
        detail="piece:N")
    layers = [area]
    haze_c = "#52ade6" if ring else "#1a6cdc"
    layers.append(alt.Chart(pts(HAZE_WIDE)).mark_circle(size=8000,color=haze_c,opacity=.08 if ring else .09,clip=True).encode(x=X,y=Y))
    layers.append(alt.Chart(pts(HAZE)).mark_circle(size=3600,color=haze_c,opacity=.21 if ring else .2,clip=True).encode(x=X,y=Y))
    if ring:
        blue = dict(filled=True,fill="#3f8fd0",fillOpacity=.22,stroke="#b4d8f2",strokeOpacity=.42,strokeWidth=1.1,size=80,clip=True)
        orange = dict(filled=True,fill="#ff7f0e",fillOpacity=.36,stroke="#ffb37a",strokeOpacity=.35,strokeWidth=1.1,size=80,clip=True)
    else:
        blue = dict(filled=True,fill="#1f77b4",fillOpacity=.36,strokeWidth=0,size=90,clip=True)
        orange = dict(filled=True,fill="#ff7f0e",fillOpacity=.32,strokeWidth=0,size=90,clip=True)
    for lst in (BLUE_SPARSE,BLUE_MID,BLUE_DENSE):
        layers.append(alt.Chart(pts(lst)).mark_point(**blue).encode(x=X,y=Y))
    layers.append(alt.Chart(pts(ORANGE)).mark_point(**orange).encode(x=X,y=Y))
    layers.append(alt.Chart(pts(LINE_POINTS)).mark_point(**orange).encode(x=X,y=Y))
    line = pd.DataFrame({"x":LINE_X,"y":LINE_Y})
    layers.append(alt.Chart(line).mark_line(color="#f58a2a" if ring else "#f0763a",strokeWidth=9.5,opacity=.9,strokeCap="round").encode(x=X,y=Y))
    layers.append(alt.Chart(pd.DataFrame({"x":LABEL_X,"y":LABEL_Y,"t":[label]})).mark_text(
        color="white",fontSize=38,font=FONT,align="left",baseline="middle").encode(x=X,y=Y,text="t:N"))
    frame = pd.DataFrame({"x":[X_DOMAIN[0]],"x2":[X_DOMAIN[1]],"y":[Y_DOMAIN[0]],"y2":[Y_DOMAIN[1]]})
    layers.append(alt.Chart(frame).mark_rect(filled=False,stroke="black",strokeWidth=LW).encode(x=X,x2="x2:Q",y=Y,y2="y2:Q"))
    return alt.layer(*layers).properties(width=w,height=H)

CB_TOP = 10**-0.855
CB_BOT = 10**-3.995
def colorbar():
    cys = alt.Scale(type="log",domain=[CB_BOT,CB_TOP],nice=False)
    cxs = alt.Scale(domain=[0,1],nice=False,zero=False)
    no_x = alt.Axis(labels=False,ticks=False,domain=False,title=None,grid=False)
    yaxis = alt.Axis(orient="right",values=CB_TICKS,title="Prediction Interval Width",grid=False,domain=False,
                     labelExpr="datum.value > 0.05 ? '10⁻¹' : datum.value > 0.005 ? '10⁻²' : '10⁻³'",
                     titleAngle=270,titleBaseline="middle",titleX=156,titleY=420,labelPadding=16)
    CX = alt.X("x:Q",scale=cxs,axis=no_x,stack=False)
    bands = pd.DataFrame({"x":[0]*19,"x2":[1]*19,"y":[10**v for v in LEVELS[:-1]],"y2":[10**v for v in LEVELS[1:]],"band":list(range(19))})
    rects = alt.Chart(bands).mark_rect(strokeWidth=.6).encode(
        x=CX,x2="x2:Q",
        y=alt.Y("y:Q",scale=cys,axis=yaxis,stack=False),y2="y2:Q",
        color=alt.Color("band:O",scale=color_scale,legend=None),stroke=alt.Stroke("band:O",scale=color_scale,legend=None))
    tips = pd.DataFrame([
        {"piece":0,"band":21,"i":0,"x":0,"lo":10**LEVELS[0],"hi":10**LEVELS[0]},
        {"piece":0,"band":21,"i":1,"x":.5,"lo":CB_BOT,"hi":10**LEVELS[0]},
        {"piece":0,"band":21,"i":2,"x":1,"lo":10**LEVELS[0],"hi":10**LEVELS[0]},
        {"piece":1,"band":19,"i":0,"x":0,"lo":10**LEVELS[-1],"hi":10**LEVELS[-1]},
        {"piece":1,"band":19,"i":1,"x":.5,"lo":10**LEVELS[-1],"hi":CB_TOP},
        {"piece":1,"band":19,"i":2,"x":1,"lo":10**LEVELS[-1],"hi":10**LEVELS[-1]}])
    tri = alt.Chart(tips).mark_area().encode(
        x=CX,y=alt.Y("lo:Q",scale=cys,axis=yaxis,stack=False),y2="hi:Q",
        color=alt.Color("band:O",scale=color_scale,legend=None),detail="piece:N")
    out = pd.DataFrame({"i":range(7),"x":[0,0,.5,1,1,.5,0],
        "y":[10**LEVELS[0],10**LEVELS[-1],CB_TOP,10**LEVELS[-1],10**LEVELS[0],CB_BOT,10**LEVELS[0]]})
    outline = alt.Chart(out).mark_line(color="black",strokeWidth=LW,strokeJoin="miter").encode(
        x=CX,y=alt.Y("y:Q",scale=cys,axis=yaxis,stack=False),order="i:Q")
    return alt.layer(rects,tri,outline).properties(width=42,height=H)

def spacer():
    return alt.Chart(pd.DataFrame({"a":[0]})).mark_text(text=" ").encode(x=alt.value(0),y=alt.value(0)).properties(width=306.5,height=H)

chart = alt.hconcat(
    panel(PIECES_A,LABELS[0],731,True),colorbar(),spacer(),
    panel(PIECES_B,LABELS[1],731,False),colorbar(),spacer(),
    panel(PIECES_C,LABELS[2],913,True),
    spacing=45.4,bounds="flush"
).properties(padding={"left":40,"top":35,"right":5,"bottom":5},background="white"
).configure_view(stroke=None
).configure_axis(labelFont=FONT,titleFont=FONT,labelFontSize=FS,titleFontSize=FS,labelColor="black",titleColor="black",
    domainColor="black",tickColor="black",domainWidth=LW,tickWidth=LW,tickSize=14.6,labelPadding=15,titleFontWeight="normal",
    labelFlush=False,labelOverlap=False)

chart.save("out.html",embed_options={"renderer":"svg","actions":False})
